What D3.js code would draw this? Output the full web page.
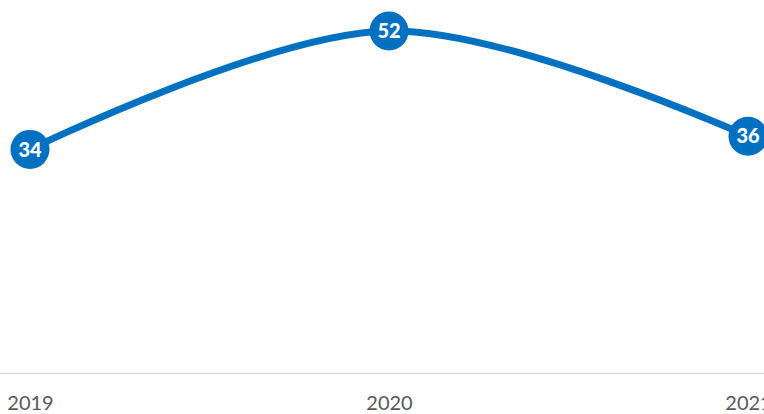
<!DOCTYPE html>
<html><head><meta charset="utf-8">
<script src="https://cdn.jsdelivr.net/npm/d3@7"></script>
<style>html,body{margin:0;padding:0;background:#fff;overflow:hidden}</style>
</head><body>
<svg id="chart" width="764" height="414"></svg>
<script>
const categories = ["2019", "2020", "2021"];
const values = [34, 52, 36];

const W = 764, H = 414;
const svg = d3.select("#chart");
const x = d3.scalePoint().domain(categories).range([30, 748]).padding(0);
const y = d3.scaleLinear().domain([0, 52]).range([373, 31]);

// axis
const axis = d3.axisBottom(x).tickSize(0).tickPadding(0);
const gx = svg.append("g").attr("transform", "translate(0,373)").call(axis);
gx.select(".domain").remove();
svg.append("line").attr("x1", 0).attr("x2", W).attr("y1", 373.5).attr("y2", 373.5)
  .attr("stroke", "#d9d9d9").attr("stroke-width", 1.5);
gx.selectAll("text").attr("font-family", "Lato, 'Open Sans', sans-serif")
  .attr("font-size", 20).attr("fill", "#595959").attr("dy", null).attr("y", 37);

const data = categories.map((c, i) => ({c, v: values[i]}));
const line = d3.line().x(d => x(d.c)).y(d => y(d.v)).curve(d3.curveCatmullRom.alpha(0.5));
svg.append("path").datum(data).attr("d", line).attr("fill", "none")
  .attr("stroke", "#0070C0").attr("stroke-width", 7).attr("stroke-linecap", "round");

const pts = svg.append("g").selectAll("g").data(data).join("g")
  .attr("transform", d => `translate(${x(d.c)},${y(d.v)})`);
pts.append("circle").attr("r", 19.5).attr("fill", "#0070C0");
pts.append("text").text(d => d.v).attr("text-anchor", "middle").attr("dy", "0.36em")
  .attr("font-family", "Lato, 'Open Sans', sans-serif").attr("font-weight", "900")
  .attr("font-size", 20).attr("fill", "#fff");
</script>
</body></html>
